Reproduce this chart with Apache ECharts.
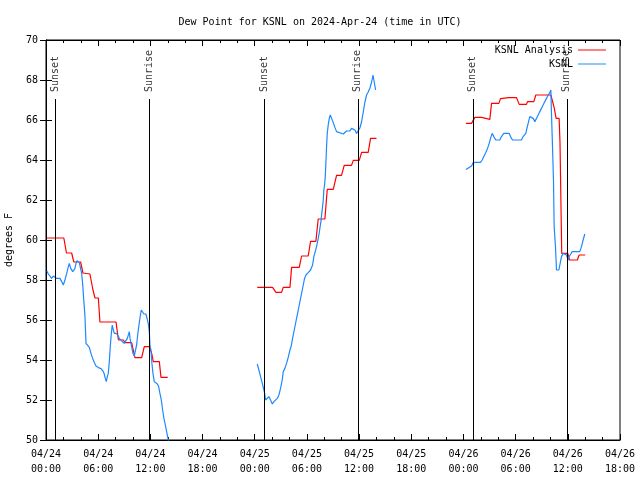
<!DOCTYPE html>
<html>
<head>
<meta charset="utf-8">
<script src="https://cdn.jsdelivr.net/npm/echarts@6/dist/echarts.min.js"></script>
<style>html,body{margin:0;padding:0;background:#fff}#c{width:640px;height:480px}</style>
</head>
<body>
<div id="c"></div>
<script>
// hours since 2024-04-24 00:00 UTC, dew point (F)
const redSeg1 = [[0.1,60.1],[2.05,60.1],[2.35,59.35],[2.95,59.35],[3.2,58.9],[3.98,58.9],[4.25,58.35],[5.05,58.3],[5.4,57.5],[5.63,57.1],[6.02,57.1],[6.2,55.9],[8.05,55.9],[8.22,55.35],[8.33,55.0],[8.9,55.0],[9.08,54.87],[9.85,54.87],[10.03,54.5],[10.23,54.12],[11.0,54.12],[11.3,54.67],[11.88,54.67],[12.15,54.33],[12.34,53.92],[13.03,53.92],[13.22,53.13],[14.0,53.13]];
const redSeg2 = [[24.29,57.63],[26.05,57.63],[26.44,57.38],[27.09,57.38],[27.28,57.63],[28.05,57.63],[28.24,58.63],[29.12,58.63],[29.39,59.2],[30.15,59.2],[30.42,59.93],[31.03,59.93],[31.3,61.05],[32.07,61.05],[32.34,62.53],[33.03,62.53],[33.41,63.23],[33.98,63.23],[34.29,63.73],[35.13,63.73],[35.33,63.98],[36.02,63.98],[36.29,64.38],[37.05,64.38],[37.32,65.08],[38.0,65.08]];
const redSeg3 = [[48.28,65.83],[48.93,65.83],[49.31,66.13],[50.08,66.13],[50.26,66.03],[51.03,66.03],[51.23,66.83],[52.07,66.83],[52.26,67.07],[53.22,67.12],[54.1,67.12],[54.41,66.78],[55.25,66.78],[55.36,66.92],[56.09,66.92],[56.32,67.25],[58.05,67.25],[58.2,67.0],[58.45,66.58],[58.65,66.08],[59.0,66.08],[59.1,64.9],[59.3,59.33],[60.0,59.33],[60.2,59.0],[61.1,59.0],[61.3,59.25],[62.0,59.25]];
const blueSeg1 = [[0.1,58.45],[0.27,58.3],[0.46,58.2],[0.65,58.08],[0.84,58.2],[1.03,58.3],[1.23,58.08],[1.61,58.08],[1.8,57.92],[1.99,57.75],[2.18,58.0],[2.38,58.33],[2.57,58.67],[2.68,58.83],[2.84,58.58],[3.07,58.42],[3.22,58.33],[3.33,58.58],[3.45,58.83],[3.56,58.97],[3.72,58.92],[3.83,58.87],[3.95,58.83],[4.1,58.33],[4.21,57.83],[4.33,57.08],[4.48,56.17],[4.6,54.83],[4.79,54.75],[4.98,54.63],[5.17,54.33],[5.36,54.08],[5.56,53.87],[5.75,53.7],[6.02,53.62],[6.32,53.57],[6.59,53.42],[6.7,53.3],[6.82,53.08],[6.93,52.92],[7.05,53.17],[7.16,53.33],[7.28,53.92],[7.39,54.67],[7.51,55.33],[7.62,55.75],[7.74,55.5],[7.85,55.33],[7.97,55.25],[8.08,55.33],[8.2,55.37],[8.31,55.2],[8.43,55.08],[8.54,55.0],[8.66,54.97],[8.77,54.92],[9.0,54.83],[9.2,54.92],[9.35,55.08],[9.58,55.42],[9.66,55.08],[9.77,54.83],[9.89,54.58],[10.0,54.33],[10.15,54.2],[10.27,54.17],[10.42,54.75],[10.54,55.25],[10.69,55.75],[10.84,56.2],[10.96,56.5],[11.11,56.42],[11.26,56.3],[11.49,56.3],[11.65,56.25],[11.76,55.83],[11.88,55.42],[11.95,54.75],[12.07,54.5],[12.18,53.83],[12.3,53.33],[12.45,52.92],[12.64,52.87],[12.8,52.8],[12.95,52.67],[13.1,52.33],[13.26,52.0],[13.41,51.5],[13.56,51.08],[13.72,50.75],[13.87,50.42],[13.98,50.17],[14.15,49.8]];
const blueSeg2 = [[24.29,53.8],[24.48,53.5],[24.67,53.17],[24.87,52.83],[25.06,52.5],[25.17,52.25],[25.25,52.0],[25.44,52.08],[25.63,52.17],[25.82,52.0],[26.02,51.8],[26.21,51.92],[26.4,52.0],[26.59,52.08],[26.78,52.25],[26.97,52.58],[27.16,53.0],[27.28,53.42],[27.47,53.58],[27.66,53.83],[27.85,54.13],[28.05,54.5],[28.2,54.7],[28.35,55.08],[28.51,55.42],[28.66,55.75],[28.81,56.08],[28.97,56.42],[29.12,56.75],[29.27,57.08],[29.43,57.42],[29.58,57.75],[29.73,58.08],[29.89,58.25],[30.15,58.37],[30.42,58.5],[30.65,58.75],[30.8,59.17],[30.96,59.42],[31.11,59.67],[31.23,59.92],[31.38,60.25],[31.49,60.58],[31.61,60.92],[31.69,61.25],[31.8,61.67],[31.88,62.0],[31.95,62.5],[32.03,62.75],[32.11,63.17],[32.18,63.83],[32.26,64.67],[32.34,65.33],[32.45,65.75],[32.57,66.08],[32.68,66.25],[32.84,66.08],[33.03,65.87],[33.22,65.63],[33.41,65.42],[33.6,65.33],[34.18,65.3],[34.37,65.33],[34.56,65.45],[34.94,65.45],[35.13,65.58],[35.33,65.67],[35.52,65.5],[35.71,65.33],[35.9,65.42],[36.09,65.6],[36.28,65.9],[36.48,66.4],[36.67,66.9],[36.86,67.25],[37.05,67.4],[37.25,67.6],[37.44,67.9],[37.6,68.25],[37.7,68.0],[37.9,67.5]];
const blueSeg3 = [[48.28,63.53],[48.66,63.63],[48.93,63.7],[49.12,63.87],[49.43,63.88],[49.96,63.88],[50.15,64.0],[50.34,64.17],[50.57,64.37],[50.77,64.58],[50.96,64.83],[51.11,65.08],[51.3,65.33],[51.49,65.17],[51.72,65.0],[52.18,65.0],[52.37,65.17],[52.64,65.33],[53.26,65.33],[53.41,65.17],[53.64,65.0],[54.67,65.0],[54.86,65.17],[55.17,65.33],[55.25,65.5],[55.44,65.83],[55.63,66.17],[55.82,66.25],[56.02,66.08],[56.21,65.92],[56.4,66.08],[56.59,66.25],[56.78,66.42],[56.97,66.58],[57.16,66.75],[57.36,66.92],[57.55,67.08],[57.74,67.25],[57.93,67.37],[58.05,67.5],[58.12,66.33],[58.24,64.67],[58.35,63.0],[58.43,60.67],[58.58,59.67],[58.7,58.5],[58.97,58.5],[59.12,58.83],[59.27,59.17],[59.46,59.33],[59.66,59.42],[59.85,59.25],[60.04,59.0],[60.15,59.17],[60.34,59.3],[60.5,59.42],[61.38,59.42],[61.57,59.67],[61.76,60.0],[61.95,60.3]];
const sunTimes = [1.07, 11.87, 25.06, 35.86, 49.08, 59.89];
const sunLabels = ['Sunset','Sunrise','Sunset','Sunrise','Sunset','Sunrise'];
const xTickDays = ['04/24','04/25','04/26'];

const FONT = 'DejaVu Sans Mono';
function joinSegs(segs){
  const out = [];
  segs.forEach((s,i)=>{ if(i>0) out.push([s[0][0]-0.01,'-']); s.forEach(p=>out.push(p)); });
  return out;
}
function xLabel(h){
  const d = Math.floor(h/24), hh = h - d*24;
  return xTickDays[d] + '\n' + String(hh).padStart(2,'0') + ':00';
}
const tickCommon = {inside:true, length:6, lineStyle:{color:'#000', width:1}};
const minorCommon = {show:true, splitNumber:3, length:3, lineStyle:{color:'#000', width:1}};
const chart = echarts.init(document.getElementById('c'), null, {renderer:'canvas'});
chart.setOption({
  animation:false,
  backgroundColor:'#fff',
  title:{text:'Dew Point for KSNL on 2024-Apr-24 (time in UTC)', left:'center', top:12,
    textStyle:{fontFamily:FONT, fontSize:10, fontWeight:'normal', color:'#000'}},
  legend:{data:['KSNL Analysis','KSNL'], orient:'vertical', right:29, top:40, align:'right',
    icon:'rect', itemWidth:28, itemHeight:1, itemGap:4,
    textStyle:{fontFamily:FONT, fontSize:10, color:'#000'}},
  grid:{left:46, right:20, top:40, bottom:40, show:true, borderColor:'#000', borderWidth:1,
    containLabel:false, outerBoundsMode:'none'},
  xAxis:[
    {type:'value', min:0, max:66, interval:6, position:'bottom',
     axisLine:{lineStyle:{color:'#000'}}, axisTick:tickCommon, minorTick:minorCommon,
     splitLine:{show:false},
     axisLabel:{formatter:xLabel, fontFamily:FONT, fontSize:10, color:'#000', lineHeight:15, margin:7}},
    {type:'value', min:0, max:66, interval:6, position:'top',
     axisLine:{lineStyle:{color:'#000'}}, axisTick:tickCommon, minorTick:minorCommon,
     splitLine:{show:false}, axisLabel:{show:false}}
  ],
  yAxis:[
    {type:'value', min:50, max:70, interval:2, position:'left',
     axisLine:{show:true, lineStyle:{color:'#000'}}, axisTick:tickCommon, splitLine:{show:false},
     axisLabel:{fontFamily:FONT, fontSize:10, color:'#000', margin:8},
     name:'degrees F', nameLocation:'middle', nameGap:32, nameRotate:90,
     nameTextStyle:{fontFamily:FONT, fontSize:10, color:'#000'}},
    {type:'value', min:50, max:70, interval:2, position:'right',
     axisLine:{show:true, lineStyle:{color:'#000'}}, axisTick:tickCommon, splitLine:{show:false},
     axisLabel:{show:false}}
  ],
  series:[
    {name:'KSNL Analysis', type:'line', data:joinSegs([redSeg1, redSeg2, redSeg3]),
     showSymbol:false, connectNulls:false, lineStyle:{color:'#ff0000', width:1.2}, itemStyle:{color:'#ff0000'}, z:3},
    {name:'KSNL', type:'line', data:joinSegs([blueSeg1, blueSeg2, blueSeg3]),
     showSymbol:false, connectNulls:false, lineStyle:{color:'#1e88ff', width:1.2}, itemStyle:{color:'#1e88ff'}, z:3},
    {name:'sun', type:'scatter', symbolSize:0, silent:true, z:4,
     data:sunTimes.map((t,i)=>({value:[t,67.4], name:sunLabels[i]})),
     label:{show:true, formatter:'{b}', position:'inside', align:'left', verticalAlign:'middle', rotate:90,
       fontFamily:FONT, fontSize:10, color:'#000'},
     markLine:{silent:true, symbol:['none','none'], label:{show:false},
       lineStyle:{color:'#000', width:1, type:'solid'},
       data:sunTimes.map(t=>[{coord:[t,50]},{coord:[t,67.05]}])}}
  ]
});
</script>
</body>
</html>
